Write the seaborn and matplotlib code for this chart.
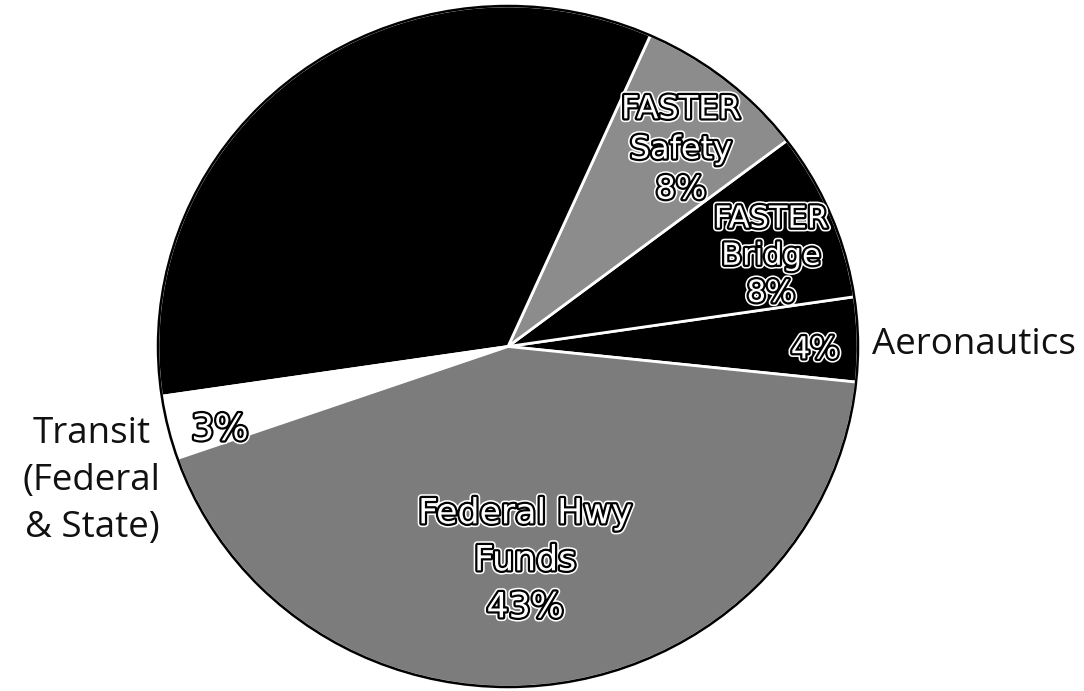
import matplotlib
matplotlib.use("Agg")
import matplotlib.pyplot as plt
import matplotlib.patheffects as pe
from matplotlib.patches import Ellipse
import seaborn as sns

# Program funding shares (percent), counter-clockwise from the Aeronautics wedge
categories = ["Aeronautics", "FASTER Bridge", "FASTER Safety",
              "State Hwy Funds", "Transit (Federal & State)", "Federal Hwy Funds"]
shares = [4, 8, 8, 34, 3, 43]
slice_colors = ["#000000", "#000000", "#8c8c8c", "#000000", "#ffffff", "#7c7c7c"]

sns.set_theme(style="white")
plt.rcParams["font.family"] = ["DejaVu Sans"]

W, H = 1084, 691
fig = plt.figure(figsize=(W / 100, H / 100), dpi=100)
fig.patch.set_facecolor("white")

# pie occupies pixels x 158..858, y 6..687
ax = fig.add_axes([158 / W, (H - 687) / H, 700 / W, 681 / H])
palette = sns.color_palette(slice_colors)
wedges, _ = ax.pie(shares, colors=palette, startangle=-6, counterclock=True,
                   radius=1.0, center=(0, 0),
                   wedgeprops=dict(edgecolor="white", linewidth=2.0))
ax.set_aspect("auto")
ax.set_xlim(-1, 1)
ax.set_ylim(-1, 1)
ax.axis("off")
ax.add_patch(Ellipse((0, 0), 2, 2, fill=False, edgecolor="black", lw=1.8, clip_on=False))

# white lettering with a black rim and a thin white halo
outline = [pe.withStroke(linewidth=5.5, foreground="white"),
           pe.withStroke(linewidth=3.2, foreground="black")]


def stacked(x, y0, step, lines, size, color="white", effects=outline):
    for i, line in enumerate(lines):
        ax.text(x, y0 - i * step, line, ha="center", va="center", fontsize=size,
                color=color, path_effects=effects, clip_on=False)


def pct(v):
    return f"{v}%"


# labels inside the wedges
stacked(0.049, -0.490, 0.138, ["Federal Hwy", "Funds", pct(shares[5])], 25)
stacked(0.494, 0.695, 0.118, ["FASTER", "Safety", pct(shares[2])], 23)
stacked(0.751, 0.374, 0.109, ["FASTER", "Bridge", pct(shares[1])], 22)
stacked(0.877, -0.010, 0.0, [pct(shares[0])], 22)
stacked(-0.823, -0.245, 0.0, [pct(shares[4])], 26)
# the State label sits black on the black wedge
stacked(-0.323, 0.592, 0.157, ["State Hwy", "Funds", pct(shares[3])], 25,
        color="black", effects=[])

# labels outside the pie
ax.text(1.04, 0.003, "Aeronautics", ha="left", va="center", fontsize=26.5,
        family="Open Sans", color="#111111", clip_on=False)
for i, line in enumerate(["Transit", "(Federal", "& State)"]):
    ax.text(-1.189, -0.257 - i * 0.138, line, ha="center", va="center",
            fontsize=26.5, family="Open Sans", color="#111111", clip_on=False)

fig.savefig("out.png", dpi=100, facecolor="white")
